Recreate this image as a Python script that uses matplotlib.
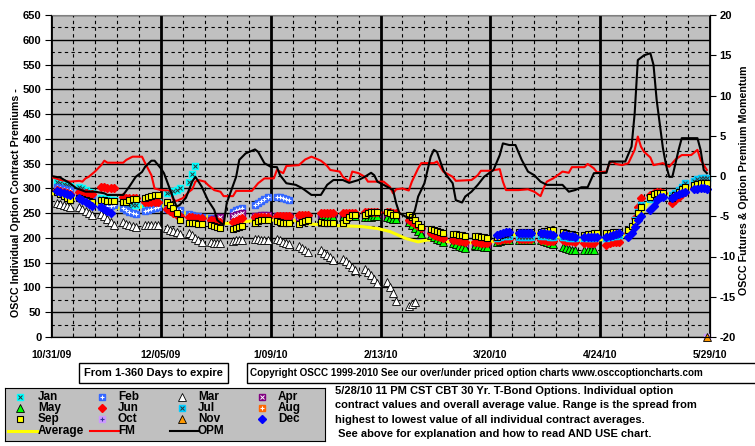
import numpy as np
import pandas as pd
import matplotlib
matplotlib.use("Agg")
import matplotlib.pyplot as plt
from matplotlib.patches import Rectangle

plt.rcParams['font.family'] = ['Liberation Sans', 'DejaVu Sans']
plt.rcParams['font.weight'] = 'bold'
plt.rcParams['axes.unicode_minus'] = False

# ---- data ----
start = pd.Timestamp("2009-10-31")
end = pd.Timestamp("2010-05-29")
x_ticks = ["2009-10-31", "2009-12-05", "2010-01-09", "2010-02-13",
           "2010-03-20", "2010-04-24", "2010-05-29"]
x_labels = ["10/31/09", "12/05/09", "1/09/10", "2/13/10", "3/20/10", "4/24/10", "5/29/10"]

# trading weeks (Mondays), index 0..29
weeks = pd.date_range("2009-11-02", "2010-05-24", freq="7D")

# contract premiums per week: {week index: daily values}
jan = {0: [312, 310, 308, 306, 304], 1: [302, 300, 296, 292, 290], 2: [280, 278, 278, 276, 276],
       3: [262, 264, 264, 266, 266], 4: [268, 270, 270, 272, 272], 5: [290, 292, 294, 296, 300],
       6: [312, 330, 345]}
feb = {0: [302, 300, 298, 296, 296], 1: [292, 290, 288, 287, 286], 2: [262, 262, 264, 264, 266],
       3: [260, 256, 252, 250, 248], 4: [254, 256, 258, 260, 262], 5: [258, 258, 258, 256, 256],
       6: [248, 246, 244, 244, 242], 7: [240, 238, 238, 240], 8: [252, 256, 258, 260],
       9: [266, 270, 274, 278, 282], 10: [282, 282, 280, 278, 276]}
mar = {0: [270, 268, 266, 264, 262], 1: [262, 258, 254, 250, 246], 2: [248, 244, 238, 232, 226],
       3: [232, 229, 226, 224, 222], 4: [226, 226, 226, 227, 227], 5: [220, 217, 214, 211, 208],
       6: [210, 205, 200, 196, 192], 7: [192, 190, 189, 190], 8: [194, 195, 196, 196],
       9: [197, 197, 196, 196, 196], 10: [197, 195, 192, 190, 188], 11: [184, 180, 176, 172],
       12: [175, 170, 166, 161, 156], 13: [158, 153, 148, 142, 136], 14: [138, 132, 126, 118, 110],
       15: [111, 101, 89, 73], 16: [62, 66, 70]}
apr = {7: [236, 238, 240, 242], 8: [244, 246, 248, 250], 9: [244, 244, 246, 246, 246],
       10: [244, 244, 244, 244, 244], 11: [242, 242, 242, 242], 12: [244, 246, 246, 246, 246],
       13: [244, 244, 244, 244, 244], 14: [246, 246, 246, 246, 246], 15: [242, 242, 240, 240],
       16: [232, 228, 224, 220, 216], 17: [212, 208, 206, 204, 202], 18: [198, 194, 192, 190, 188],
       19: [188, 186, 186, 184, 184]}
may = {12: [240, 242, 242, 242, 242], 13: [242, 242, 244, 244, 244], 14: [242, 242, 242, 244, 244],
       15: [242, 240, 238, 238], 16: [232, 226, 220, 214, 208], 17: [206, 202, 198, 196, 192],
       18: [190, 188, 184, 182, 180], 19: [186, 184, 184, 182, 182], 20: [192, 194, 196, 196, 196],
       21: [196, 196, 196, 196, 196], 22: [196, 194, 192, 190, 188], 23: [182, 180, 178, 176, 176],
       24: [176, 176, 176, 176]}
jun = {0: [296, 294, 292, 290, 288], 1: [292, 291, 290, 289, 288], 2: [303, 302, 301, 300, 300],
       3: [282, 281, 280, 280, 280], 4: [272, 272, 272, 272, 272], 5: [258, 254, 250, 246, 244],
       6: [242, 242, 241, 240, 240], 7: [236, 235, 234, 232], 8: [232, 235, 238, 240],
       9: [242, 242, 242, 242, 242], 10: [244, 244, 244, 244, 244], 11: [246, 246, 246, 246],
       12: [250, 250, 250, 250, 250], 13: [250, 250, 250, 250, 250], 14: [252, 252, 252, 252, 252],
       15: [252, 252, 250, 250], 16: [236, 232, 228, 224, 220], 17: [210, 206, 204, 202, 200],
       18: [196, 195, 194, 193, 192], 19: [192, 191, 190, 190, 190], 20: [196, 196, 197, 198, 198],
       21: [198, 198, 198, 198, 198], 22: [196, 196, 194, 194, 194], 23: [196, 194, 194, 193, 192],
       24: [190, 190, 190, 190], 25: [186, 190, 192, 192, 192], 26: [210, 220, 240, 262, 280],
       27: [286, 290, 292, 292, 290], 28: [270, 276, 282, 288, 292], 29: [300, 302, 304, 304]}
jul = {20: [200, 202, 204, 204, 204], 21: [202, 202, 202, 202, 202], 22: [204, 204, 203, 202, 202],
       23: [202, 201, 200, 200, 199], 24: [200, 200, 200, 200], 25: [200, 202, 203, 204, 205],
       26: [214, 222, 236, 252, 266], 27: [278, 282, 284, 284, 284], 28: [286, 290, 296, 302, 310],
       29: [314, 318, 320, 320, 320]}
aug = {}
sep = {0: [292, 288, 284, 280, 276], 1: [280, 278, 276, 274, 272], 2: [276, 276, 275, 275, 274],
       3: [273, 273, 276, 278, 278], 4: [280, 283, 285, 286, 286], 5: [273, 266, 260, 250, 236],
       6: [230, 230, 230, 229, 229], 7: [226, 224, 222, 220], 8: [218, 220, 222, 224],
       9: [230, 234, 236, 236, 237], 10: [234, 232, 231, 230, 230], 11: [229, 232, 234, 236],
       12: [232, 230, 230, 230, 230], 13: [230, 236, 243, 246, 246], 14: [246, 250, 252, 252, 252],
       15: [252, 250, 246, 246], 16: [246, 242, 236, 228, 222], 17: [218, 216, 214, 212, 210],
       18: [208, 207, 206, 205, 204], 19: [204, 203, 202, 201, 200], 20: [202, 206, 208, 210, 212],
       21: [212, 212, 212, 212, 212], 22: [212, 213, 214, 215, 216], 23: [212, 210, 208, 207, 206],
       24: [206, 207, 208, 209, 210], 25: [210, 210, 211, 212, 212], 26: [216, 224, 234, 250, 262],
       27: [283, 288, 290, 291, 291], 28: [280, 286, 292, 298, 302], 29: [306, 308, 310, 311, 310]}
oct_ = {30: [1]}   # single point on the last date
nov = {30: [1]}
dec = {0: [294, 292, 290, 288, 286], 1: [280, 276, 272, 268, 264], 2: [262, 258, 254, 250],
       20: [206, 208, 210, 212, 212], 21: [210, 210, 210, 210, 210], 22: [210, 209, 208, 207, 206],
       23: [206, 205, 204, 203, 202], 24: [202, 202, 202, 202, 202], 25: [202, 204, 206, 208, 210],
       26: [202, 210, 222, 236, 244], 27: [256, 264, 276, 282, 283], 28: [280, 284, 288, 290, 292],
       29: [298, 299, 300, 300, 298]}

# lines: days since 10/31/09
avg_day = [0, 5, 10, 13, 18, 26, 32, 35, 39, 43, 47, 52, 55, 58, 62, 66, 70, 77, 81, 87,
           95, 99, 104, 108, 113, 117, 120, 127, 134, 140, 144, 147, 154, 161, 168, 175, 182, 185, 188, 190,
           194, 199, 203, 207, 209]
avg_val = [290, 283, 276, 273, 260, 260, 266, 266, 256, 250, 246, 240, 229, 230, 233, 236, 236, 236, 229, 226,
           224, 223, 219, 213, 199, 192, 196, 192, 190, 192, 196, 206, 210, 202, 197, 196, 202, 223, 246, 270,
           287, 290, 300, 307, 307]
fm_day = [0, 3, 6, 9, 10, 11, 12, 14, 16, 17, 18, 23, 24, 26, 29, 30, 32, 33, 35, 38,
          39, 40, 42, 44, 45, 46, 47, 49, 50, 52, 54, 55, 58, 59, 64, 66, 68, 71, 72, 74,
          75, 79, 81, 83, 86, 87, 88, 89, 92, 93, 95, 96, 98, 100, 101, 106, 108, 109, 110, 112,
          114, 115, 117, 118, 122, 123, 125, 128, 129, 134, 136, 137, 140, 143, 144, 145, 149, 152, 154, 156,
          157, 158, 160, 162, 163, 165, 166, 170, 171, 173, 174, 177, 178, 179, 180, 182, 184, 186, 187, 188,
          189, 191, 192, 195, 197, 199, 201, 204, 206, 207, 209]
fm_val = [-0.1, -0.5, -0.7, -0.6, -0.7, -0.3, -0.1, 0.55, 1.35, 1.9, 1.65, 1.65, 2.0, 2.4, 2.4, 1.6, 0.1, -1.55, -1.75, -1.8,
          -3.0, -3.1, -2.75, -1.95, -1.65, -0.7, -0.5, -0.7, -1.1, -1.75, -1.95, -2.5, -2.5, -1.85, -1.85, -0.9, -0.3, -0.3, 0.75, 0.35,
          1.25, 1.35, 2.05, 2.4, 1.9, 1.6, 1.25, 0.75, 0.55, -0.1, -0.7, 0.55, 0.35, -0.1, -0.7, -0.7, -1.35, -2.15, -1.65, -1.55,
          -1.8, -0.7, 0.95, 1.6, 1.6, 1.8, 0.55, -0.1, -0.6, -0.5, 0.1, 0.65, 0.65, 0.85, -0.7, -1.75, -1.75, -1.65, -1.95, -2.5,
          -1.5, -0.7, -0.3, 0.25, 0.55, 0.4, 1.1, 1.1, 1.5, 0.95, 0.45, 0.55, 1.6, 1.8, 1.5, 1.35, 1.6, 3.25, 4.9, 3.65,
          3.0, 2.3, 1.35, 1.6, 1.15, 2.05, 2.6, 2.6, 3.25, 2.0, 0.75]
opm_day = [0, 3, 6, 8, 11, 14, 17, 18, 23, 25, 27, 29, 30, 32, 33, 35, 36, 38, 40, 41,
           43, 45, 46, 48, 50, 52, 53, 55, 56, 59, 60, 62, 65, 66, 68, 70, 72, 73, 75, 78,
           80, 83, 86, 88, 90, 93, 95, 98, 100, 102, 103, 104, 106, 109, 110, 111, 113, 115, 116, 117,
           119, 120, 121, 122, 123, 125, 126, 128, 129, 131, 132, 134, 136, 138, 141, 143, 144, 146, 148, 150,
           152, 154, 156, 158, 161, 163, 165, 167, 169, 171, 173, 177, 178, 183, 185, 186, 187, 189, 191, 192,
           193, 195, 196, 197, 198, 200, 201, 206, 207, 208, 209]
opm_val = [0.0, -0.2, -0.9, -1.5, -1.95, -1.95, -2.15, -2.35, -2.35, -1.3, -0.1, 0.5, 1.15, 1.9, 1.9, 0.95, 0.35, -1.75, -3.8, -3.6,
           -2.7, -0.7, -0.1, -1.3, -3.0, -4.2, -5.5, -6.1, -3.35, -0.1, 2.0, 2.8, 3.3, 3.0, 1.6, 1.15, 1.1, 0.1, -0.9, -1.1,
           -1.5, -2.35, -2.35, -1.1, -0.5, -0.5, -0.85, -0.5, -0.1, 0.4, 0.1, -0.7, -1.1, -1.75, -3.4, -4.6, -5.05, -5.25, -4.2, -2.55,
           -0.9, 0.75, 2.4, 3.25, 3.0, 0.75, 0.1, -0.9, -3.0, -3.3, -2.55, -1.95, -1.1, -0.1, 0.75, 2.6, 4.05, 3.85, 3.85, 2.0,
           0.55, 0.1, -0.7, -1.1, -1.1, -1.1, -1.95, -1.75, -1.4, -1.4, 0.35, 0.4, 1.8, 1.8, 3.65, 7.8, 14.4, 15.0, 15.25, 13.8,
           9.45, 3.45, 1.35, -0.1, -0.1, 3.25, 4.7, 4.7, 3.25, 0.75, 0.35]

# ---- marker styles ----
STY = {
    "Jan": (dict(marker='s', ms=5, mfc='#00FFFF', mec='#00FFFF'), dict(marker='x', ms=2.2, mec='#333333', mew=0.7)),
    "Feb": (dict(marker='s', ms=5, mfc='#3366FF', mec='#3366FF'), dict(marker='+', ms=2.8, mec='white', mew=0.8)),
    "Mar": (dict(marker='^', ms=5.5, mfc='white', mec='black', mew=0.6), None),
    "Apr": (dict(marker='s', ms=5, mfc='#800080', mec='#800080'), dict(marker='x', ms=2.2, mec='white', mew=0.7)),
    "May": (dict(marker='^', ms=5.5, mfc='#00FF00', mec='black', mew=0.6), None),
    "Jun": (dict(marker='D', ms=4, mfc='#FF0000', mec='#FF0000'), None),
    "Jul": (dict(marker='s', ms=5, mfc='#00CCFF', mec='#00CCFF'), dict(marker='x', ms=2.2, mec='#333333', mew=0.7)),
    "Aug": (dict(marker='s', ms=5, mfc='#FF6600', mec='#FF6600'), dict(marker='+', ms=2.8, mec='white', mew=0.8)),
    "Sep": (dict(marker='s', ms=5, mfc='#FFFF00', mec='black', mew=0.8), None),
    "Oct": (dict(marker='s', ms=5, mfc='#CC99FF', mec='#CC99FF'), dict(marker='+', ms=2.8, mec='#333399', mew=0.8)),
    "Nov": (dict(marker='^', ms=5.5, mfc='#FF9900', mec='black', mew=0.6), None),
    "Dec": (dict(marker='D', ms=4.5, mfc='#0000FF', mec='#0000FF'), None),
}


def draw(axis, xs, ys, name, **kw):
    base, over = STY[name]
    axis.plot(xs, ys, ls='none', **base, **kw)
    if over is not None:
        axis.plot(xs, ys, ls='none', **over, **kw)


def week_points(series):
    xs, ys = [], []
    for w, vals in series.items():
        monday = weeks[w] if w < len(weeks) else end - pd.Timedelta(days=1)
        for i, v in enumerate(vals):
            xs.append(monday + pd.Timedelta(days=i))
            ys.append(v)
    return xs, ys


W, H = 755, 446


def box(x0, y0, x1, y1):
    return [x0 / W, 1 - y1 / H, (x1 - x0) / W, (y1 - y0) / H]


fig = plt.figure(figsize=(W / 100, H / 100), dpi=100)
ax = fig.add_axes(box(51, 15, 710, 337))
ax.set_facecolor('#C0C0C0')
ax.set_xlim(start, end)
ax.set_ylim(0, 650)
ax.set_axisbelow(True)

ax.set_yticks(np.arange(0, 651, 50))
ax.set_yticks(np.arange(25, 650, 50), minor=True)
ax.set_xticks(pd.to_datetime(x_ticks))
ax.set_xticklabels(x_labels)
ax.set_xticks(pd.date_range(start, end, freq='7D'), minor=True)
ax.grid(True, which='major', axis='y', color='black', lw=1)
ax.grid(True, which='minor', axis='y', color='black', lw=0.8, ls=(0, (3, 3)))
ax.grid(True, which='minor', axis='x', color='black', lw=0.8, ls=(0, (3, 3)))
ax.grid(True, which='major', axis='x', color='black', lw=2)
ax.tick_params(axis='y', which='major', direction='out', length=4, pad=3, labelsize=8)
ax.tick_params(axis='y', which='minor', length=0)
ax.tick_params(axis='x', which='major', length=0, pad=9, labelsize=7.5)
ax.tick_params(axis='x', which='minor', direction='in', length=3)
for s in ['left', 'bottom']:
    ax.spines[s].set_color('black')
ax.spines['top'].set_color('#808080')

# average line under the markers
ax.plot([start + pd.Timedelta(days=d) for d in avg_day], avg_val, color='#FFFF00', lw=2.2, zorder=2)

series = [("Jan", jan), ("Feb", feb), ("Mar", mar), ("Apr", apr), ("May", may), ("Jun", jun),
          ("Jul", jul), ("Aug", aug), ("Sep", sep), ("Oct", oct_), ("Nov", nov), ("Dec", dec)]
for name, s in series:
    if not s:
        continue
    xs, ys = week_points(s)
    draw(ax, xs, ys, name, zorder=3, clip_on=False)

ax2 = ax.twinx()
ax2.set_ylim(-20, 20)
ax2.set_yticks(np.arange(-20, 21, 5))
ax2.tick_params(axis='y', direction='out', length=4, pad=3, labelsize=8)
ax2.spines['right'].set_color('black')
ax2.spines['top'].set_visible(False)
ax2.plot([start + pd.Timedelta(days=d) for d in fm_day], fm_val, color='#FF0000', lw=1.5)
ax2.plot([start + pd.Timedelta(days=d) for d in opm_day], opm_val, color='black', lw=1.5)

fig.text(16 / W, 1 - 203 / H, "OSCC Individual Option Contract Premiums -", rotation=90,
         ha='center', va='center', fontsize=7.7)
fig.text(744 / W, 1 - 180 / H, "OSCC Futures & Option Premium Momentum", rotation=90,
         ha='center', va='center', fontsize=7.7)

# text boxes under the axis
fig.add_artist(Rectangle((79 / W, 1 - 383 / H), 149 / W, 20 / H, transform=fig.transFigure,
                         facecolor='white', edgecolor='black', lw=1))
fig.text(153.5 / W, 1 - 373 / H, "From 1-360 Days to expire", ha='center', va='center', fontsize=8)
fig.add_artist(Rectangle((247 / W, 1 - 383 / H), 520 / W, 20 / H, transform=fig.transFigure,
                         facecolor='white', edgecolor='black', lw=1, clip_on=False))
fig.text(250 / W, 1 - 373 / H,
         "Copyright OSCC 1999-2010 See our over/under priced option charts www.osccoptioncharts.com",
         ha='left', va='center', fontsize=7.1)

notes = ["5/28/10 11 PM CST CBT 30 Yr. T-Bond Options. Individual option",
         "contract values and overall average value. Range is the spread from",
         "highest to lowest value of all individual contract averages.",
         " See above for explanation and how to read AND USE chart."]
for i, line in enumerate(notes):
    fig.text(335 / W, 1 - (391 + 14.3 * i) / H, line, ha='left', va='center', fontsize=8)

# hand-made legend box
lg = fig.add_axes(box(5, 388, 325, 441))
lg.set_xlim(5, 325)
lg.set_ylim(441, 388)
lg.set_facecolor('#C0C0C0')
lg.set_xticks([])
lg.set_yticks([])
for sp in lg.spines.values():
    sp.set_color('black')
leg_names = [["Jan", "Feb", "Mar", "Apr"], ["May", "Jun", "Jul", "Aug"],
             ["Sep", "Oct", "Nov", "Dec"]]
mk_x = [20, 102, 182, 262]
lb_x = [38, 118, 198, 278]
row_y = [397, 408, 419, 431]
for r, row in enumerate(leg_names):
    for c, name in enumerate(row):
        draw(lg, [mk_x[c]], [row_y[r]], name)
        lg.text(lb_x[c], row_y[r], name, va='center', ha='left', fontsize=8.5)
line_items = [("Average", '#FFFF00', 2.2), ("FM", '#FF0000', 1.5), ("OPM", 'black', 1.5)]
for c, (name, col, lw) in enumerate(line_items):
    lg.plot([mk_x[c] - 12, mk_x[c] + 17], [row_y[3], row_y[3]], color=col, lw=lw)
    lg.text(lb_x[c], row_y[3], name, va='center', ha='left', fontsize=8.5)

fig.savefig("out.png", dpi=100, facecolor='white')
